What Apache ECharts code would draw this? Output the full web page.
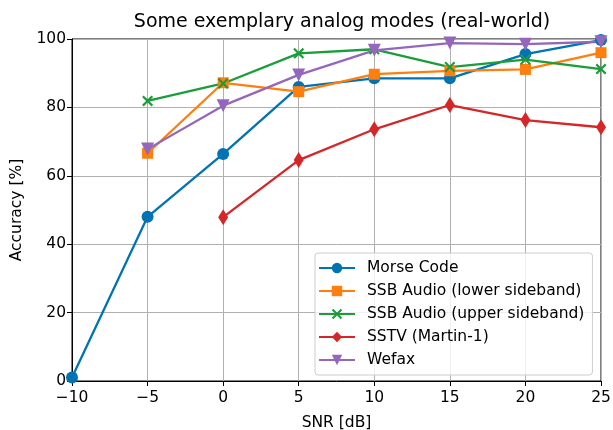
<!DOCTYPE html>
<html>
	<head>
		<meta charset="utf-8">
		<title>analog modes</title>
		<script type="text/javascript" src="https://cdn.jsdelivr.net/npm/echarts@6/dist/echarts.min.js"></script>
		<style type="text/css">
			html, body { margin: 0; padding: 0; background: #fff; }
		</style>
	</head>
	<body>
		<div id="chart" style="width:613px; height:430px;"></div>
		<script type="text/javascript">
			var snr = [-10, -5, 0, 5, 10, 15, 20, 25];
			var morse = [1.0, 48.0, 66.4, 86.0, 88.5, 88.5, 95.6, 99.7];
			var ssbLower = [null, 66.6, 87.2, 84.6, 89.7, 90.7, 91.1, 96.0];
			var ssbUpper = [null, 81.9, 87.0, 95.8, 97.0, 91.8, 94.0, 91.2];
			var sstv = [null, null, 47.9, 64.6, 73.6, 80.7, 76.3, 74.2];
			var wefax = [null, 67.8, 80.5, 89.5, 96.7, 98.8, 98.5, 99.2];
			var names = ['Morse Code', 'SSB Audio (lower sideband)', 'SSB Audio (upper sideband)', 'SSTV (Martin-1)', 'Wefax'];
			var colors = ['#0173b2', '#ff7f0e', '#1a9e3a', '#d62728', '#9467bd'];

			function pairs(vals) {
				var out = [];
				for (var i = 0; i < snr.length; i++) {
					if (vals[i] !== null) out.push([snr[i], vals[i]]);
				}
				return out;
			}

			var xMark = 'path://M0,1.4L1.4,0L5,3.6L8.6,0L10,1.4L6.4,5L10,8.6L8.6,10L5,6.4L1.4,10L0,8.6L3.6,5Z';
			var triDown = 'path://M0,0L10,0L5,9Z';
			var symbols = ['circle', 'rect', xMark, 'diamond', triDown];
			var sizes = [12, 11, 11, [10, 16], 13];
			var allData = [morse, ssbLower, ssbUpper, sstv, wefax];

			var series = [];
			for (var k = 0; k < names.length; k++) {
				series.push({
					name: names[k],
					type: 'line',
					data: pairs(allData[k]),
					symbol: symbols[k],
					symbolSize: sizes[k],
					showAllSymbol: true,
					clip: true,
					color: colors[k],
					lineStyle: { width: 2.3 },
					itemStyle: { color: colors[k], borderWidth: 0 }
				});
			}

			var font = 'DejaVu Sans';
			var myChart = echarts.init(document.getElementById('chart'));
			myChart.setOption({
				animation: false,
				textStyle: { fontFamily: font },
				title: {
					text: 'Some exemplary analog modes (real-world)',
					left: 337,
					textAlign: 'center',
					top: 8,
					textStyle: { fontFamily: font, fontSize: 19, fontWeight: 'normal', color: '#000' }
				},
				grid: {
					left: 72, right: 12, top: 39, bottom: 49,
					outerBoundsMode: 'none',
					containLabel: false,
					show: true, borderColor: '#000', borderWidth: 1
				},
				legend: {
					orient: 'vertical',
					left: 315,
					top: 253,
					itemWidth: 36,
					itemHeight: 13,
					itemGap: 7,
					padding: [7, 8, 7, 3],
					backgroundColor: 'rgba(255,255,255,0.8)',
					borderColor: '#cccccc',
					borderWidth: 1,
					borderRadius: 3,
					textStyle: { fontFamily: font, fontSize: 15.5, color: '#000', padding: [0, 0, 0, 7] },
					data: names
				},
				xAxis: {
					type: 'value',
					min: -10,
					max: 25,
					interval: 5,
					name: 'SNR [dB]',
					nameLocation: 'middle',
					nameGap: 34,
					nameTextStyle: { fontFamily: font, fontSize: 15.5, color: '#000' },
					axisLine: { show: true, onZero: false, lineStyle: { color: '#000', width: 1 } },
					axisTick: { show: true, length: 5, lineStyle: { color: '#000' } },
					axisLabel: {
						fontFamily: font, fontSize: 15.5, color: '#000', margin: 9,
						formatter: function(v) { return String(v).replace('-', '\u2212'); }
					},
					splitLine: { show: true, lineStyle: { color: '#b0b0b0', width: 1 } }
				},
				yAxis: {
					type: 'value',
					min: 0,
					max: 100,
					interval: 20,
					name: 'Accuracy [%]',
					nameLocation: 'middle',
					nameGap: 47,
					nameTextStyle: { fontFamily: font, fontSize: 15.5, color: '#000' },
					axisLine: { show: true, onZero: false, lineStyle: { color: '#000', width: 1 } },
					axisTick: { show: true, length: 5, lineStyle: { color: '#000' } },
					axisLabel: { fontFamily: font, fontSize: 15.5, color: '#000', margin: 6 },
					splitLine: { show: true, lineStyle: { color: '#b0b0b0', width: 1 } }
				},
				series: series
			});
		</script>
	</body>
</html>
